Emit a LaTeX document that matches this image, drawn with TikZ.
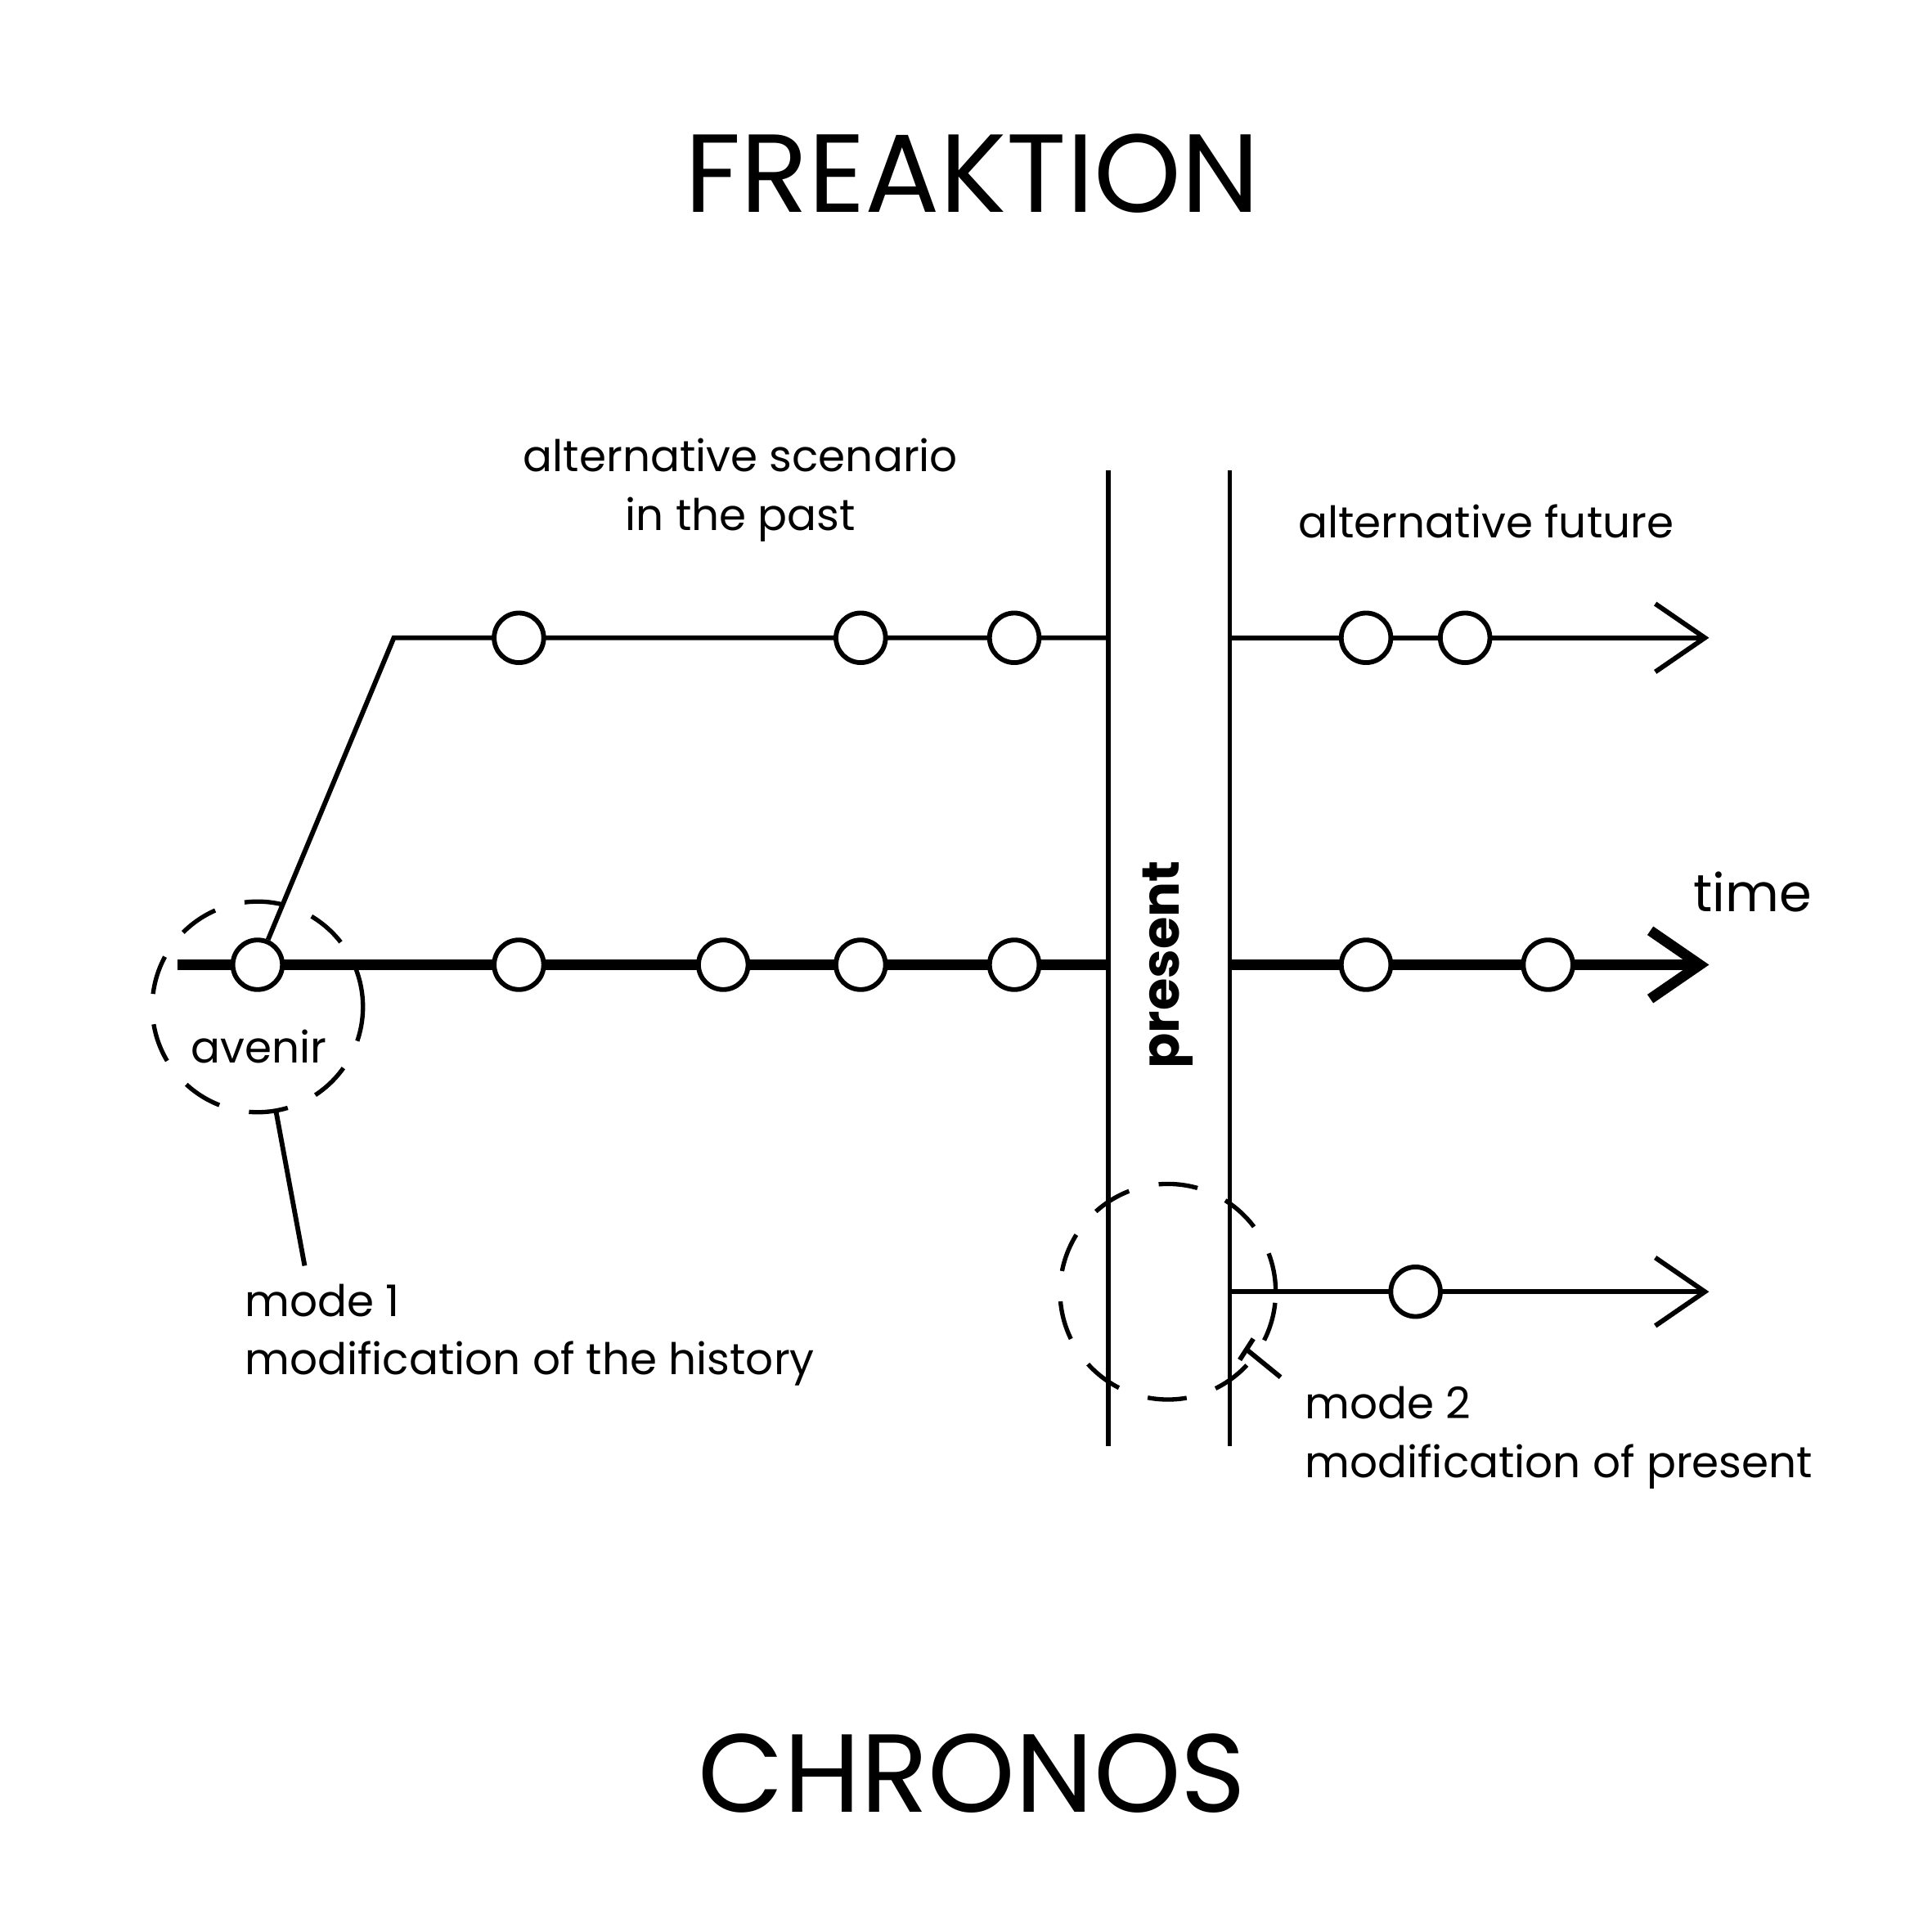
\documentclass[tikz,border=0pt]{standalone}
\usepackage{fontspec}
\setmainfont{Poppins}
\usetikzlibrary{arrows.meta}
\begin{document}
\begin{tikzpicture}[x=0.01cm,y=-0.01cm,
  dot/.style={circle,draw,line width=1.1pt,fill=white,minimum size=0.4cm,inner sep=0pt},
  thinl/.style={line width=1.1pt},
  thickl/.style={line width=2.4pt},
  open/.style={-{Straight Barb[length=0.4cm,width=0.55cm,line width=1.1pt]}},
  openthick/.style={-{Straight Barb[length=0.4cm,width=0.55cm,line width=2.4pt]}},
  dashl/.style={dash pattern=on 9pt off 7pt,line width=1pt},
  lbl/.style={font=\fontsize{10}{13.5}\selectfont,align=left,inner sep=0pt},
  title/.style={font=\fontsize{25.5}{30}\selectfont,inner sep=0pt}]
\useasboundingbox (0,0) rectangle (1560,1560);
\node[title] (t1) at (785,140) {FREAKTION};
\node[title] (t2) at (785,1432) {CHRONOS};
\coordinate (v1a) at (895,380); \coordinate (v1b) at (895,1168);
\coordinate (v2a) at (993,380); \coordinate (v2b) at (993,1168);
\draw[thinl] (v1a)--(v1b); \draw[thinl] (v2a)--(v2b);
\node[lbl,rotate=90,font=\fontsize{12}{14}\selectfont\bfseries] (pr) at (943,779) {present};
\coordinate (m0) at (143,779); \coordinate (m1) at (895,779);
\coordinate (m2) at (993,779); \coordinate (m3) at (1380,779);
\draw[thickl] (m0)--(m1);
\draw[thickl,openthick] (m2)--(m3);
\coordinate (u0) at (318,515); \coordinate (u1) at (895,515);
\coordinate (u2) at (993,515); \coordinate (u3) at (1380,515);
\node[dot] (a) at (208,779) {};
\draw[thinl] (a)--(u0)--(u1);
\draw[thinl,open] (u2)--(u3);
\coordinate (l2) at (993,1043); \coordinate (l3) at (1380,1043);
\draw[thinl,open] (l2)--(l3);
\foreach \x/\n in {419/b,584/c,695/d,819/e,1103/f,1250/g} \node[dot] (\n) at (\x,779) {};
\foreach \x/\n in {419/ub,695/uc,819/ud,1103/uf,1183/ug} \node[dot] (\n) at (\x,515) {};
\node[dot] (lf) at (1143,1043) {};
\node[circle,draw,dashl,minimum size=1.7cm] (c1) at (208,813) {};
\node[circle,draw,dashl,minimum size=1.74cm] (c2) at (943,1043) {};
\coordinate (k1) at (246,1022);
\draw[thinl] (223,898)--(k1);
\coordinate (k2a) at (1007,1090); \coordinate (k2b) at (1034,1112);
\draw[thinl] (k2a)--(k2b);
\draw[thinl] (1001,1098)--(1012,1081);
\node[lbl] (av) at (209,845) {avenir};
\node[lbl,align=center] (as) at (598,396) {alternative scenario\\in the past};
\node[lbl] (af) at (1200,421) {alternative future};
\node[lbl,font=\fontsize{12}{14}\selectfont] (tm) at (1415,720) {time};
\node[lbl,anchor=west] (mo1) at (197,1078) {mode 1\\modification of the history};
\node[lbl,anchor=west] (mo2) at (1053,1161) {mode 2\\modification of present};
\end{tikzpicture}
\end{document}
